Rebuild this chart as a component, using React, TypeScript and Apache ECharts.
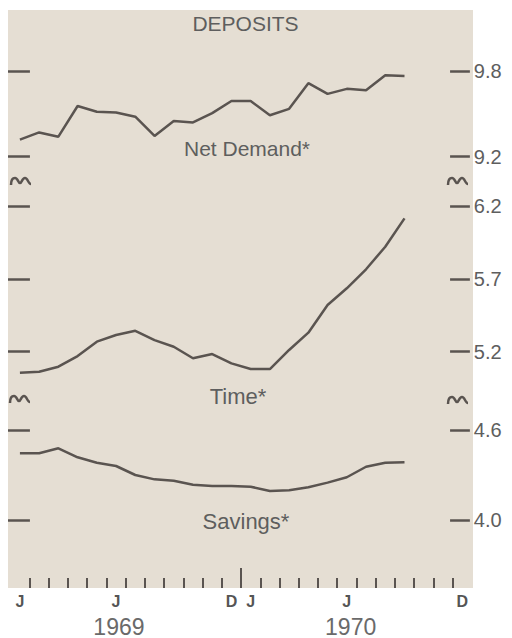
import React, { useEffect, useRef } from "react";
import * as echarts from "echarts";

// Months Jan 1969 (0) .. Dec 1970 (23); data Jan 1969 .. Sep 1970
const monthIndex = [0,1,2,3,4,5,6,7,8,9,10,11,12,13,14,15,16,17,18,19,20];
const netDemand = [9.32,9.37,9.34,9.555,9.515,9.51,9.48,9.345,9.45,9.44,9.505,9.59,9.59,9.49,9.535,9.715,9.64,9.675,9.665,9.77,9.765];
const time = [5.056,5.062,5.097,5.17,5.269,5.315,5.344,5.28,5.234,5.155,5.184,5.12,5.081,5.081,5.212,5.331,5.521,5.636,5.767,5.922,6.117];
const savings = [4.445,4.445,4.478,4.418,4.382,4.36,4.3,4.271,4.262,4.235,4.227,4.227,4.222,4.193,4.198,4.218,4.249,4.285,4.355,4.382,4.385];

const netTicks = [9.2, 9.8];
const timeTicks = [5.2, 5.7, 6.2];
const savTicks = [4.0, 4.6];

const monthTickPos = [0.5,1.5,2.5,3.5,4.5,5.5,6.5,7.5,8.5,9.5,10.5,11.5,12.5,13.5,14.5,15.5,16.5,17.5,18.5,19.5,20.5,21.5,22.5];
const monthLabelPos = [0, 5, 11, 12, 17, 23];
const monthLabelText = ["J", "J", "D", "J", "J", "D"];
const yearTickPos = [11.5];
const yearLabelPos = [5.15, 17.2];
const yearLabelText = ["1969", "1970"];

const INK = "#5a5450";
const TXT = "#5e5e5e";
const FONT = "Liberation Sans";
const BREAK_D = "M1,9 C1,6 2,2 5,2 C8,2 8,7 10,7 C12,7 12,2 15,2 C18,2 18,8 21,8";

export default function App() {
  const ref = useRef<HTMLDivElement>(null);
  useEffect(() => {
    if (!ref.current) return;
    try {
      echarts.graphic.registerShape("brk", echarts.graphic.extendPath(BREAK_D, {}));
    } catch (e) {}
    const chart = echarts.init(ref.current, undefined, { renderer: "svg" });
    const gridLeft = 8;
    const gridW = 463.8;
    const xMin = -0.62;
    const xMax = 23.5;
    const grids = [
      { left: gridLeft, width: gridW, top: 71, height: 85.7, outerBoundsMode: "none" },
      { left: gridLeft, width: gridW, top: 206.3, height: 174.5, outerBoundsMode: "none" },
      { left: gridLeft, width: gridW, top: 430, height: 90, outerBoundsMode: "none" },
    ];
    const hiddenX = (gi: number) => ({
      type: "value", gridIndex: gi, min: xMin, max: xMax, show: false,
    });
    const yAx = (gi: number, min: number, max: number, ticks: number[]) => ({
      type: "value", gridIndex: gi, position: "right", min, max,
      axisLine: { show: false }, splitLine: { show: false }, axisTick: { show: false },
      axisLabel: {
        show: true, customValues: ticks, margin: 2, color: TXT, fontFamily: FONT, fontSize: 20,
        formatter: (v: number) => v.toFixed(1),
      },
    });
    // short horizontal tick marks at both panel edges, in data coordinates
    const tickMarks = (ticks: number[]) => ({
      silent: true, symbol: "none", animation: false,
      label: { show: false },
      lineStyle: { color: INK, width: 2.5, type: "solid" },
      emphasis: { disabled: true },
      data: ticks.flatMap((t) => [
        [{ coord: [xMin, t] }, { coord: [0.52, t] }],
        [{ coord: [22.37, t] }, { coord: [23.4, t] }],
      ]),
    });
    const breakMark = (x: number, y: number) => ({
      type: "brk", x, y, z: 5,
      style: { stroke: INK, lineWidth: 2.5, fill: "none" },
    });
    const label = (text: string, x: number, y: number, size: number) => ({
      type: "text", x, y, z: 5,
      style: { text, fill: TXT, font: `${size}px "${FONT}"`, align: "center", verticalAlign: "middle" },
    });
    chart.setOption({
      animation: false,
      backgroundColor: "#ffffff",
      grid: grids,
      xAxis: [
        hiddenX(0),
        hiddenX(1),
        {
          type: "value", gridIndex: 2, position: "bottom", offset: 68, min: xMin, max: xMax,
          axisLine: { show: false }, splitLine: { show: false },
          axisTick: { show: true, inside: true, length: 10, customValues: monthTickPos, lineStyle: { color: INK, width: 2 } },
          axisLabel: {
            show: true, customValues: monthLabelPos, margin: 5, color: "#555", fontFamily: FONT,
            fontSize: 16, fontWeight: "bold",
            formatter: (v: number) => {
              const i = monthLabelPos.findIndex((p) => Math.abs(p - v) < 1e-6);
              return i >= 0 ? monthLabelText[i] : "";
            },
          },
        },
        {
          type: "value", gridIndex: 2, position: "bottom", offset: 68, min: xMin, max: xMax,
          axisLine: { show: false }, splitLine: { show: false },
          axisTick: { show: true, inside: true, length: 20, customValues: yearTickPos, lineStyle: { color: INK, width: 2 } },
          axisLabel: {
            show: true, customValues: yearLabelPos, margin: 27, color: "#6a6a6a", fontFamily: FONT,
            fontSize: 23,
            formatter: (v: number) => {
              const i = yearLabelPos.findIndex((p) => Math.abs(p - v) < 1e-6);
              return i >= 0 ? yearLabelText[i] : "";
            },
          },
        },
      ],
      yAxis: [
        yAx(0, 9.2, 9.8, netTicks),
        yAx(1, 5.0, 6.2, timeTicks),
        yAx(2, 4.0, 4.6, savTicks),
      ],
      series: [
        { type: "line", xAxisIndex: 0, yAxisIndex: 0, data: monthIndex.map((m, i) => [m, netDemand[i]]), markLine: tickMarks(netTicks) },
        { type: "line", xAxisIndex: 1, yAxisIndex: 1, data: monthIndex.map((m, i) => [m, time[i]]), markLine: tickMarks(timeTicks) },
        { type: "line", xAxisIndex: 2, yAxisIndex: 2, data: monthIndex.map((m, i) => [m, savings[i]]), markLine: tickMarks(savTicks) },
      ].map((s) => ({ ...s, symbol: "none", silent: true, clip: false, lineStyle: { color: INK, width: 2.5 } })),
      graphic: [
        { type: "rect", shape: { x: 8, y: 10, width: 465, height: 578 }, style: { fill: "#e5ded3" }, z: -100 },
        label("DEPOSITS", 245.5, 23.5, 21),
        label("Net Demand*", 247, 148.5, 21),
        label("Time*", 238, 396, 22),
        label("Savings*", 246, 521, 22),
        breakMark(10, 176),
        breakMark(447, 176),
        breakMark(9, 394),
        breakMark(447, 395),
      ],
    });
    return () => chart.dispose();
  }, []);
  return <div ref={ref} style={{ position: "fixed", left: 0, top: 0, width: 512, height: 638 }} />;
}
